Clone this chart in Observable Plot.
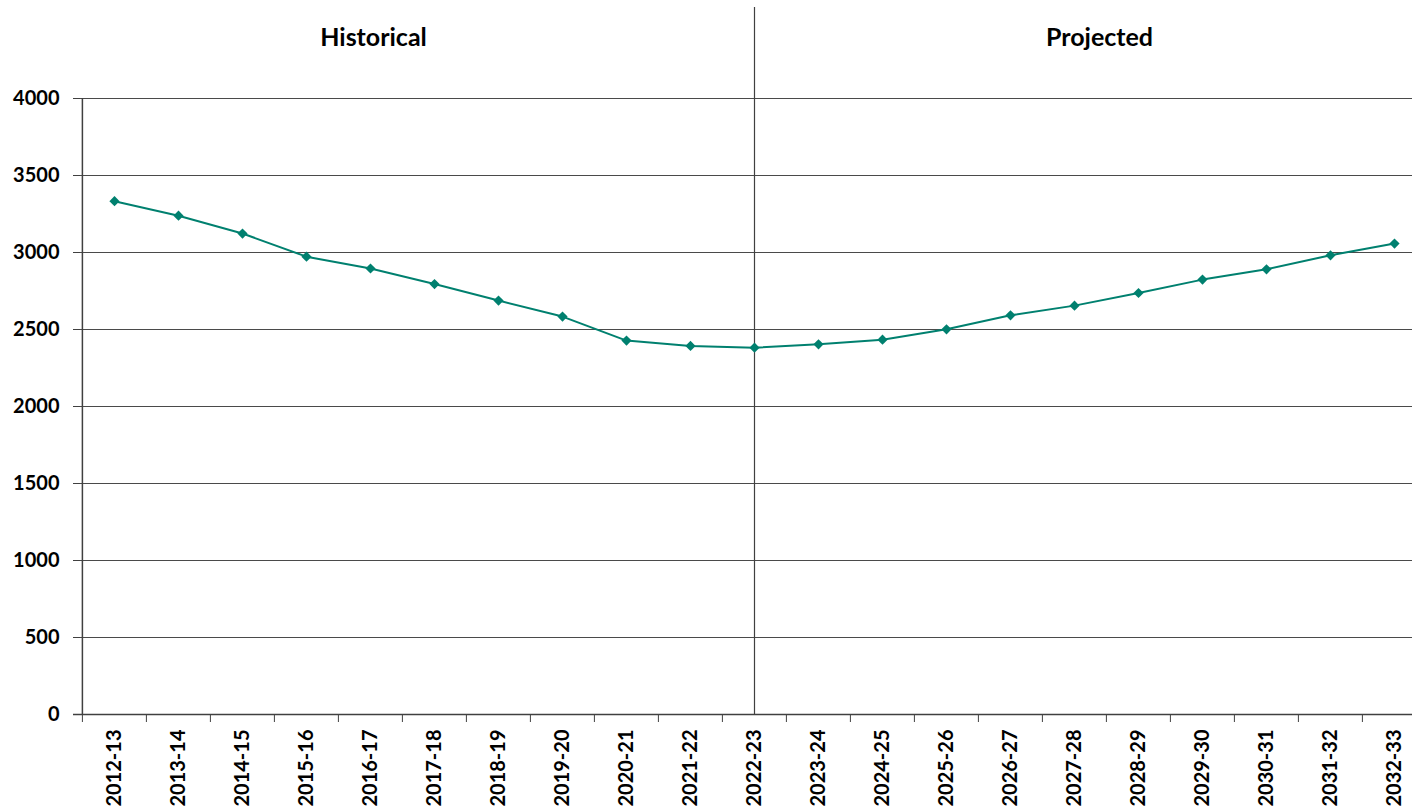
<!DOCTYPE html>
<html>
<head>
<meta charset="utf-8">
<script src="https://cdn.jsdelivr.net/npm/d3@7"></script>
<script src="https://cdn.jsdelivr.net/npm/@observablehq/plot@0.6"></script>
<style>
  html, body { margin: 0; padding: 0; background: #fff; }
  #chart { width: 1412px; height: 812px; overflow: hidden; }
</style>
</head>
<body>
<div id="chart"></div>
<script>
const categories = ["2012-13","2013-14","2014-15","2015-16","2016-17","2017-18","2018-19","2019-20","2020-21","2021-22","2022-23","2023-24","2024-25","2025-26","2026-27","2027-28","2028-29","2029-30","2030-31","2031-32","2032-33"];
const values = [3333,3239,3123,2973,2896,2795,2688,2584,2428,2393,2382,2404,2434,2501,2592,2655,2737,2824,2891,2982,3058];
const yTicks = [0,500,1000,1500,2000,2500,3000,3500,4000];
const dividerCategory = "2022-23";
const sectionLabels = ["Historical", "Projected"];
const sectionAnchors = ["2016-17", "2027-28"];

const data = categories.map((c, i) => ({category: c, value: values[i]}));

const W = 1412, H = 812;
const xRange = [80.3, 1428.5];
const half = (xRange[1] - xRange[0]) / categories.length / 2;
const lineColor = "#00806f";
const axisColor = "#404040";
const titleOffsets = [3, 25];

const chart = Plot.plot({
  width: W,
  height: H,
  marginLeft: 80,
  marginRight: 0,
  marginTop: 98,
  marginBottom: 98,
  style: {fontFamily: "Lato, 'Liberation Sans', sans-serif", fontWeight: "bold", fontSize: "20px", color: "#000", background: "#fff"},
  x: {type: "band", domain: categories, range: xRange, padding: 0, label: null},
  y: {domain: [0, 4000], ticks: yTicks, label: null},
  marks: [
    Plot.gridY(yTicks, {stroke: "#4a4a4a", strokeOpacity: 1, strokeWidth: 1}),
    // vertical divider between historical and projected
    Plot.ruleX([dividerCategory], {y1: 4000, y2: 0, insetTop: -91, stroke: axisColor, strokeWidth: 1.2}),
    // y axis line
    Plot.ruleX([categories[0]], {y1: 0, y2: 4000, dx: -half, stroke: axisColor, strokeWidth: 1.5}),
    // x axis line
    Plot.ruleY([0], {insetLeft: -7, stroke: axisColor, strokeWidth: 1.5}),
    Plot.axisY({ticks: yTicks, tickFormat: d => String(d), tickSize: 7, tickPadding: 14, stroke: axisColor, fontSize: 20, fontWeight: "bold", label: null}),
    // category boundary ticks
    Plot.axisX({tickSize: 8, tickFormat: () => "", dx: -half, stroke: axisColor, label: null}),
    Plot.axisX({tickSize: 0, tickRotate: -90, tickPadding: 15, fontSize: 20, fontWeight: "bold", label: null}),
    Plot.lineY(data, {x: "category", y: "value", stroke: lineColor, strokeWidth: 2}),
    Plot.dot(data, {x: "category", y: "value", symbol: "diamond2", r: 4.6, fill: lineColor, stroke: "none"}),
    ...sectionLabels.map((label, i) =>
      Plot.text([label], {x: [sectionAnchors[i]], text: d => d, frameAnchor: "top", dy: -60.5, dx: titleOffsets[i], fontSize: 25, fontWeight: "bold", fill: "#000", lineAnchor: "middle"})
    )
  ]
});

document.getElementById("chart").appendChild(chart);
</script>
</body>
</html>
